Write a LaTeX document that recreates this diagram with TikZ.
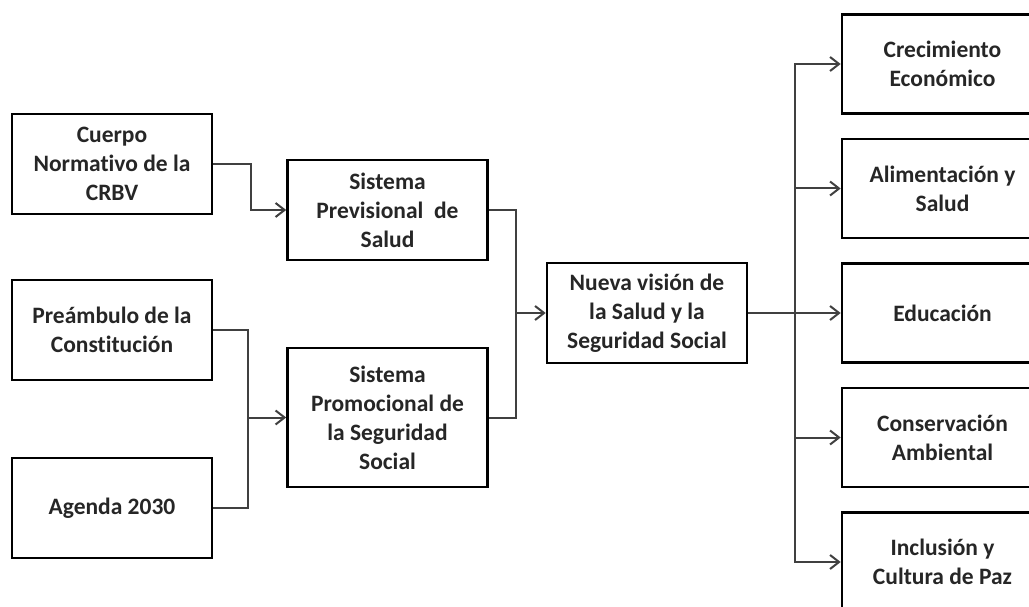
\documentclass[tikz,border=0pt]{standalone}
\usepackage{fontspec}
\setmainfont{Carlito}[Ligatures=NoCommon]
\usepackage{tikz}
\usetikzlibrary{positioning, arrows.meta}
\definecolor{linegray}{rgb}{0.25, 0.25, 0.25}
\definecolor{textgray}{rgb}{0.15, 0.15, 0.15}

\begin{document}
\begin{tikzpicture}[
        x=1pt, y=1pt,
        every node/.style={align=center, font=\fontsize{23.5}{29}\selectfont\bfseries, text=textgray},
        box/.style={rectangle, draw=black, line width=2.6pt, minimum width=200pt, minimum height=100pt, inner sep=0pt},
        tallbox/.style={box, minimum height=139pt},
        goal/.style={box, minimum width=201pt, minimum height=99pt},
        line/.style={draw=linegray, line width=2pt},
        arrow/.style={line, -{Straight Barb[length=9pt, width=14pt]}}
    ]
    \useasboundingbox (0,0) rectangle (1029,-607);
    \clip (0,0) rectangle (1029,-607);
    \fill[white] (0,0) rectangle (1029,-607);

    % Sources
    \node[box] (cuerpo) at (112,-164) {Cuerpo\\Normativo de la\\CRBV};
    \node[box, below=63.4pt of cuerpo] (preambulo) {Preámbulo de la\\Constitución};
    \node[box, below=75.4pt of preambulo] (agenda) {Agenda 2030};

    % Systems
    \node[box] (previsional) at (387.5,-210) {Sistema\\Previsional\ \ de\\Salud};
    \node[tallbox, below=85.4pt of previsional] (promocional) {Sistema\\Promocional de\\la Seguridad\\Social};

    % Centre
    \node[box] (nueva) at (647,-313) {Nueva visión de\\la Salud y la\\Seguridad Social};

    % Goals
    \node[goal] (crecimiento) at (942.5,-64) {Crecimiento\\Económico};
    \node[goal, below=22.9pt of crecimiento] (alimentacion) {Alimentación y\\Salud};
    \node[goal, below=22.9pt of alimentacion] (educacion) {Educación};
    \node[goal, below=22.9pt of educacion] (conservacion) {Conservación\\Ambiental};
    \node[goal, below=22.9pt of conservacion] (inclusion) {Inclusión y\\Cultura de Paz};

    % Junctions
    \coordinate[left=38pt of promocional.west] (inpromo);
    \coordinate[left=30pt of nueva.west] (innueva);
    \coordinate[right=47pt of nueva.east] (bus);

    % Arrows
    \draw[arrow] (cuerpo.east) -- ++(38,0) |- (previsional.west);
    \draw[line] (preambulo.east) -| (inpromo) |- (agenda.east);
    \draw[arrow] (inpromo) -- (promocional.west);
    \draw[line] (previsional.east) -| (innueva) |- (promocional.east);
    \draw[arrow] (innueva) -- (nueva.west);
    \draw[arrow] (nueva.east) -- (educacion.west);
    \draw[arrow] (bus) |- (crecimiento.west);
    \draw[arrow] (bus) |- (inclusion.west);
    \draw[arrow] (bus |- alimentacion.west) -- (alimentacion.west);
    \draw[arrow] (bus |- conservacion.west) -- (conservacion.west);

\end{tikzpicture}
\end{document}
